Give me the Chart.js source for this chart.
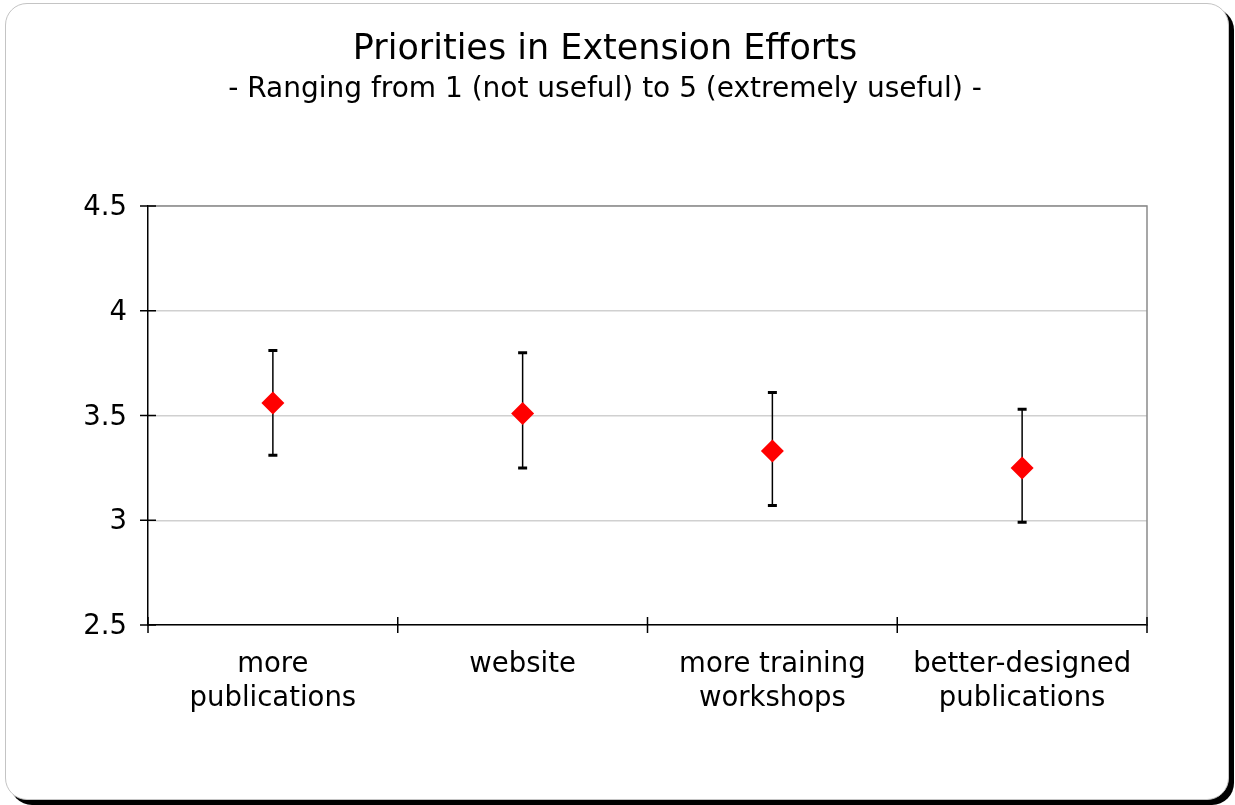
<!DOCTYPE html>
<html>
<head>
<meta charset="utf-8">
<script src="https://cdn.jsdelivr.net/npm/chart.js@4/dist/chart.umd.min.js"></script>
<style>
  html, body { margin: 0; padding: 0; background: #fff; }
  #frame {
    position: absolute; left: 5px; top: 3px; width: 1222px; height: 795px;
    border: 1px solid #c4c4c4; border-radius: 22px;
    box-shadow: 5px 5px 0 #000; background: #fff;
  }
  #wrap { position: absolute; left: 0; top: 0; width: 1235px; height: 805px; }
</style>
</head>
<body>
<div id="frame"></div>
<div id="wrap"><canvas id="chart"></canvas></div>
<script>
// data
var categories = [['more', 'publications'], 'website', ['more training', 'workshops'], ['better-designed', 'publications']];
var means = [3.56, 3.51, 3.33, 3.25];
var upper = [3.81, 3.80, 3.61, 3.53];
var lower = [3.31, 3.25, 3.07, 2.99];
var yTicks = [2.5, 3, 3.5, 4, 4.5];

var FONT = "'DejaVu Sans', Verdana, sans-serif";

// error bars, frame lines and cross tick marks
var extras = {
    id: 'extras',
    beforeDatasetsDraw: function (chart) {
        var ctx = chart.ctx, x = chart.scales.x, y = chart.scales.y, a = chart.chartArea;
        ctx.save();
        // top and right border of the plot
        ctx.strokeStyle = '#8a8a8a';
        ctx.lineWidth = 1.5;
        ctx.beginPath();
        ctx.moveTo(a.left, a.top); ctx.lineTo(a.right, a.top); ctx.lineTo(a.right, a.bottom);
        ctx.stroke();
        // axis tick marks crossing the axes
        ctx.strokeStyle = '#000';
        ctx.lineWidth = 1.5;
        ctx.beginPath();
        yTicks.forEach(function (v) {
            var py = y.getPixelForValue(v);
            ctx.moveTo(a.left - 8, py); ctx.lineTo(a.left + 8, py);
        });
        for (var i = 0; i <= categories.length; i++) {
            var px = x.getPixelForValue(i - 0.5);
            ctx.moveTo(px, a.bottom - 8); ctx.lineTo(px, a.bottom + 8);
        }
        ctx.stroke();
        // error bars
        for (var j = 0; j < means.length; j++) {
            var cx = x.getPixelForValue(j);
            var top = y.getPixelForValue(upper[j]);
            var bot = y.getPixelForValue(lower[j]);
            ctx.lineWidth = 1.5;
            ctx.beginPath();
            ctx.moveTo(cx, top); ctx.lineTo(cx, bot);
            ctx.stroke();
            ctx.lineWidth = 3;
            ctx.beginPath();
            ctx.moveTo(cx - 4.5, top); ctx.lineTo(cx + 4.5, top);
            ctx.moveTo(cx - 4.5, bot); ctx.lineTo(cx + 4.5, bot);
            ctx.stroke();
        }
        ctx.restore();
    }
};

new Chart(document.getElementById('chart'), {
    type: 'line',
    data: {
        labels: categories,
        datasets: [{
            label: 'mean',
            data: means,
            showLine: false,
            pointStyle: 'rectRot',
            pointRadius: 11.5,
            pointHoverRadius: 11.5,
            pointBackgroundColor: '#ff0000',
            pointBorderColor: '#ff0000',
            pointBorderWidth: 0
        }]
    },
    options: {
        responsive: true,
        maintainAspectRatio: false,
        animation: false,
        layout: { padding: { left: 0, right: 25, top: 0, bottom: 0 } },
        plugins: {
            legend: { display: false },
            tooltip: { enabled: false },
            title: {
                display: true,
                text: 'Priorities in Extension Efforts',
                color: '#000',
                font: { family: FONT, size: 35, weight: 'normal', lineHeight: 1 },
                padding: { top: 32.5, bottom: 4 }
            },
            subtitle: {
                display: true,
                text: '- Ranging from 1 (not useful) to 5 (extremely useful) -',
                color: '#000',
                font: { family: FONT, size: 28, weight: 'normal', lineHeight: 1 },
                padding: { top: 4, bottom: 102.5 }
            }
        },
        scales: {
            x: {
                offset: true,
                grid: { display: false, drawTicks: false, offset: true },
                border: { display: true, color: '#000', width: 1.5 },
                ticks: {
                    color: '#000', padding: 22.5, maxRotation: 0, autoSkip: false,
                    font: { family: FONT, size: 27.5, lineHeight: 1.24 }
                },
                afterFit: function (s) { s.height = 180; }
            },
            y: {
                min: 2.5, max: 4.5,
                grid: { color: '#d0d0d0', lineWidth: 1.5, drawTicks: false },
                border: { display: true, color: '#000', width: 1.5 },
                ticks: {
                    stepSize: 0.5, color: '#000', padding: 21, labelOffset: 2,
                    font: { family: FONT, size: 27.5 },
                    callback: function (v) { return String(v); }
                },
                afterFit: function (s) { s.width = 148; }
            },
            yRight: {
                position: 'right',
                display: true,
                grid: { display: false, drawTicks: false },
                border: { display: false },
                ticks: { display: false },
                afterFit: function (s) { s.width = 63; }
            }
        }
    },
    plugins: [extras]
});
</script>
</body>
</html>
